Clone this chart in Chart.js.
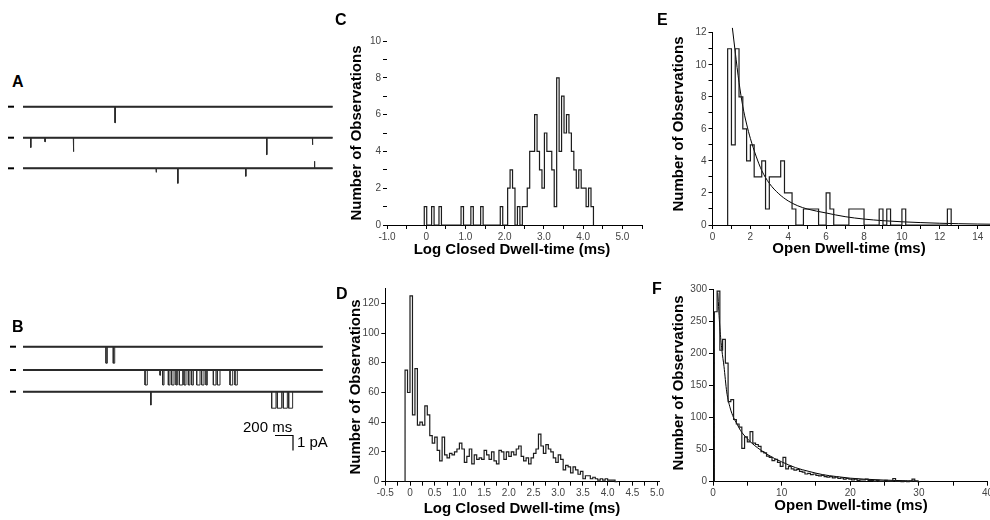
<!DOCTYPE html>
<html><head><meta charset="utf-8">
<script src="https://cdn.jsdelivr.net/npm/chart.js@4.4.0/dist/chart.umd.min.js"></script>
<style>
html,body{margin:0;padding:0;background:#fff;}
body{width:990px;height:520px;position:relative;overflow:hidden;font-family:"Liberation Sans",Arial,Helvetica,sans-serif;color:#000;}
canvas{position:absolute;}
.t{position:absolute;white-space:nowrap;line-height:1;}
.lab{font-weight:bold;font-size:16px;}
.xt{font-weight:bold;font-size:15px;transform:translate(-50%,-50%);}
.yt{font-weight:bold;font-size:15px;transform:translate(-50%,-50%) rotate(-90deg);}
.sb{font-size:15px;}
</style></head><body>
<canvas id="cA" width="340" height="100" style="left:0;top:90px;width:340px;height:100px"></canvas>
<canvas id="cB" width="340" height="125" style="left:0;top:330px;width:340px;height:125px"></canvas>
<canvas id="cC" width="310" height="225" style="left:340px;top:25px;width:310px;height:225px"></canvas>
<canvas id="cD" width="325" height="225" style="left:340px;top:275px;width:325px;height:225px"></canvas>
<canvas id="cE" width="335" height="225" style="left:655px;top:20px;width:335px;height:225px"></canvas>
<canvas id="cF" width="335" height="225" style="left:655px;top:275px;width:335px;height:225px"></canvas>

<div class="t lab" style="left:12px;top:74px">A</div>
<div class="t lab" style="left:12px;top:319px">B</div>
<div class="t lab" style="left:335px;top:12px">C</div>
<div class="t lab" style="left:336px;top:286px">D</div>
<div class="t lab" style="left:657px;top:12px">E</div>
<div class="t lab" style="left:652px;top:281px">F</div>

<div class="t xt" style="left:512px;top:248px">Log Closed Dwell-time (ms)</div>
<div class="t xt" style="left:522px;top:507px">Log Closed Dwell-time (ms)</div>
<div class="t xt" style="left:849px;top:247px">Open Dwell-time (ms)</div>
<div class="t xt" style="left:851px;top:504px">Open Dwell-time (ms)</div>
<div class="t yt" style="left:355px;top:133px">Number of Observations</div>
<div class="t yt" style="left:354px;top:387px">Number of Observations</div>
<div class="t yt" style="left:677px;top:124px">Number of Observations</div>
<div class="t yt" style="left:677px;top:383px">Number of Observations</div>

<div class="t sb" style="left:243px;top:419px">200 ms</div>
<div class="t sb" style="left:297px;top:434px">1 pA</div>

<script>
// ===== Data =====
// Panel C: log closed dwell-time histogram
const cBinStart = -0.05, cBinWidth = 0.0625;
const cCounts = [1,0,0,1,0,0,1,0,0,0,0,0,0,0,0,1,0,0,0,1,0,0,0,1,0,0,0,0,0,0,0,1,0,0,
  2,3,2,0,1,0,1,1,2,4,4,6,4,3,2,5,4,4,3,1,8,4,7,5,6,5,4,3,2,3,2,2,1,2,1];
const cXTickValues = [-1,0,1,2,3,4,5];
const cXTickLabels = ['-1.0','0','1.0','2.0','3.0','4.0','5.0'];
const cYTickValues = [0,2,4,6,8,10];

// Panel D: log closed dwell-time histogram
const dBinStart = -0.1, dBinWidth = 0.05;
const dCounts = [75,60,125,45,76,38,40,38,51,45,31,26,30,21,14,30,18,16,19,18,20,22,26,22,13,17,22,12,18,15,
  16,15,21,18,15,20,14,12,21,20,15,20,17,20,18,22,24,17,14,16,12,16,19,22,32,24,19,25,22,20,
  16,13,18,15,8,11,10,6,10,8,5,7,2,4,4,2,3,2,1,2,1,2,1,1,1,0];
const dXTickValues = [-0.5,0,0.5,1,1.5,2,2.5,3,3.5,4,4.5,5];
const dXTickLabels = ['-0.5','0','0.5','1.0','1.5','2.0','2.5','3.0','3.5','4.0','4.5','5.0'];
const dYTickValues = [0,20,40,60,80,100,120];

// Panel E: open dwell-time histogram + fit
const eBinStart = 0.8, eBinWidth = 0.2;
const eCounts = [11,5,11,8,6,4,5,3,3,4,1,3,3,3,4,2,2,1,0,0,1,1,1,1,0,0,2,1,0,0,0,0,1,1,1,1,0,0,0,0,
  1,0,1,0,0,0,1,0,0,0,0,0,0,0,0,0,0,0,1];
const eFitX = [1.05,1.2,1.4,1.6,1.8,2.0,2.3,2.6,3.0,3.5,4.0,4.5,5,6,7,8,9,10,11,12,13,14,14.65];
const eFitY = [12.3,10.8,8.9,7.4,6.3,5.4,4.3,3.4,2.6,1.95,1.5,1.2,1.0,0.75,0.52,0.37,0.27,0.2,0.15,0.11,0.08,0.06,0.05];
const eXTickValues = [0,2,4,6,8,10,12,14];
const eYTickValues = [0,2,4,6,8,10,12];

// Panel F: open dwell-time histogram + fit
const fBinStart = 0.2, fBinWidth = 0.4;
const fCounts = [265,297,205,222,185,125,128,97,90,85,52,70,62,78,60,58,55,47,45,40,38,33,35,30,24,38,20,24,20,18,
  19,16,15,12,13,11,12,10,9,10,8,7,8,6,7,5,6,4,5,4,3,4,2,3,3,4,2,2,1,2,
  1,1,2,1,1,5,1,1,0,1,0,1,4,1,0];
const fFitX = [0.7,1.0,1.3,1.6,2.0,2.5,3,3.5,4,5,6,7,8,9,10,12,14,16,18,20,22,25,28,30];
const fFitY = [295,240,205,180,140,115,100,90,80,67,57,49,42,36,31,22,16,11,8,5.5,4,2.5,1.5,1];
const fXTickValues = [0,10,20,30,40];
const fYTickValues = [0,50,100,150,200,250,300];

// Panels A/B: single-channel traces. Events: [start ms, duration ms, amplitude pA (downward)]
const aTraceMs = 3440;
const aRow1 = [[1022,5,1.07]];
const aRow2 = [[85,5,0.65],[244,5,0.27],[559,5,0.93],[2707,5,1.13],[3215,5,0.47]];
const aRow3 = [[1478,5,0.27],[1719,5,1.0],[2474,5,0.53],[3237,5,-0.47]];
const bTraceMs = 3330;
const bRow1 = [[922,15,1.1],[1003,16,1.1]];
const bRow2 = [[1356,25,1.0],[1522,6,0.35],[1552,15,1.0],[1615,18,1.0],[1652,26,1.0],[1700,15,1.0],
  [1737,37,1.0],[1789,22,1.0],[1837,18,1.0],[1874,19,1.0],[1930,37,1.0],[1985,26,1.0],[2033,15,1.0],
  [2115,29,1.0],[2159,30,1.0],[2300,30,1.0],[2355,26,1.0]];
const bRow3 = [[1419,5,0.89],[2763,48,1.1],[2826,48,1.1],[2892,45,1.1],[2952,44,1.1]];
const scaleBarMs = 200, scaleBarPA = 1;

// ===== Drawing =====
const FONT = '"Liberation Sans", Arial, Helvetica, sans-serif';
function stepPoints(start, width, counts){
  const pts = [{x:start, y:0}];
  counts.forEach((c,i)=>pts.push({x:start+i*width, y:c}));
  pts.push({x:start+counts.length*width, y:0});
  return pts;
}
function near(v, list){ return list.findIndex(t=>Math.abs(t-v)<1e-6); }
function zeroPad(s){ s.paddingLeft=0; s.paddingRight=0; s.paddingTop=0; s.paddingBottom=0; }

function histChart(id, cfg){
  const ds = [{data: stepPoints(cfg.start, cfg.width, cfg.counts), stepped:'before',
    borderColor:'#1c1c1c', borderWidth:1.2, pointRadius:0, fill:false, clip:false}];
  if (cfg.fitX) ds.push({data: cfg.fitX.map((x,i)=>({x, y:cfg.fitY[i]})), cubicInterpolationMode:'monotone',
    borderColor:'#000', borderWidth:1, pointRadius:0, fill:false, clip:false});
  const tickFont = {size:10, family:FONT};
  new Chart(document.getElementById(id), {
    type:'line',
    data:{datasets:ds},
    options:{
      responsive:false, animation:false, events:[],
      layout:{padding:{left:0, right:cfg.padR, top:cfg.padT, bottom:0}},
      plugins:{legend:{display:false}, tooltip:{enabled:false}},
      scales:{
        x:{type:'linear', min:cfg.xMin, max:cfg.xMax,
          afterFit:s=>{s.height=cfg.xH; zeroPad(s);},
          border:{display:true, color:'#000', width:1},
          grid:{display:true, drawOnChartArea:false, drawTicks:true, tickLength:4, color:'#000', lineWidth:1},
          ticks:{stepSize:cfg.xStep, autoSkip:false, maxRotation:0, minRotation:0, includeBounds:false, padding:2,
            font:tickFont, color:'#444',
            callback:v=>{const k=near(v,cfg.xTickValues); return k<0?'':(cfg.xTickLabels?cfg.xTickLabels[k]:String(cfg.xTickValues[k]));}}
        },
        y:{type:'linear', min:0, max:cfg.yMax,
          afterFit:s=>{s.width=cfg.yW; zeroPad(s);},
          border:{display:cfg.yBorder, color:'#000', width:1},
          grid:{display:true, drawOnChartArea:false, drawTicks:true, tickLength:4, color:'#000', lineWidth:1},
          ticks:{stepSize:cfg.yStep, autoSkip:false, includeBounds:false, padding:2, font:tickFont, color:'#444',
            callback:v=>{const k=near(v,cfg.yTickValues); return k<0?'':String(cfg.yTickValues[k]);}}
        }
      }
    }
  });
}

histChart('cC', {start:cBinStart, width:cBinWidth, counts:cCounts,
  xMin:-1, xMax:5.5, xStep:0.5, xTickValues:cXTickValues, xTickLabels:cXTickLabels,
  yMax:10, yStep:1, yTickValues:cYTickValues, yBorder:false,
  yW:47, xH:25, padT:16, padR:8});
histChart('cD', {start:dBinStart, width:dBinWidth, counts:dCounts,
  xMin:-0.5, xMax:5.05, xStep:0.25, xTickValues:dXTickValues, xTickLabels:dXTickLabels,
  yMax:130, yStep:20, yTickValues:dYTickValues, yBorder:true,
  yW:45.3, xH:18.3, padT:13.4, padR:5.5});
histChart('cE', {start:eBinStart, width:eBinWidth, counts:eCounts, fitX:eFitX, fitY:eFitY,
  xMin:0, xMax:14.65, xStep:1, xTickValues:eXTickValues,
  yMax:12, yStep:1, yTickValues:eYTickValues, yBorder:true,
  yW:57.5, xH:20, padT:12.7, padR:0});
histChart('cF', {start:fBinStart, width:fBinWidth, counts:fCounts, fitX:fFitX, fitY:fFitY,
  xMin:0, xMax:40, xStep:5, xTickValues:fXTickValues,
  yMax:300, yStep:50, yTickValues:fYTickValues, yBorder:true,
  yW:58, xH:18.3, padT:14.3, padR:2.5});

// Traces
const msPerPx = 200/18, pxPerPA = 15;
function tracePts(events, base, T){
  const pts=[{x:0,y:base}];
  events.slice().sort((a,b)=>a[0]-b[0]).forEach(([s,d,a])=>{
    pts.push({x:s,y:base},{x:s,y:base-a},{x:s+d,y:base-a},{x:s+d,y:base});
  });
  pts.push({x:T,y:base});
  return pts;
}
function traceChart(id, rows, T, startPx, canvasW, canvasH, firstRowPx, rowGapsPA, markerPx, bar){
  const yMax = firstRowPx/pxPerPA, yMin = yMax - canvasH/pxPerPA;
  const ds = [];
  rows.forEach((ev,i)=>{
    const base = -rowGapsPA[i];
    ds.push({data:[{x:0,y:base},{x:T,y:base}], borderColor:'#2a2a2a', borderWidth:2, pointRadius:0, clip:false});
    ds.push({data:tracePts(ev, base, T), borderColor:'#2a2a2a', borderWidth:1, pointRadius:0, clip:false});
    ds.push({data:[{x:(markerPx[0]-startPx)*msPerPx,y:base},{x:(markerPx[1]-startPx)*msPerPx,y:base}],
      borderColor:'#000', borderWidth:2, pointRadius:0, clip:false});
  });
  if (bar) {
    ds.push({data:[{x:bar.x,y:bar.y},{x:bar.x+scaleBarMs,y:bar.y},{x:bar.x+scaleBarMs,y:bar.y-scaleBarPA}],
      borderColor:'#000', borderWidth:1.2, pointRadius:0, clip:false});
  }
  new Chart(document.getElementById(id), {
    type:'line', data:{datasets:ds},
    options:{responsive:false, animation:false, events:[],
      layout:{padding:0},
      plugins:{legend:{display:false}, tooltip:{enabled:false}},
      scales:{
        x:{type:'linear', display:false, min:-startPx*msPerPx, max:(canvasW-startPx)*msPerPx},
        y:{type:'linear', display:false, min:yMin, max:yMax}
      }}
  });
}
traceChart('cA', [aRow1,aRow2,aRow3], aTraceMs, 23, 340, 100, 16.7, [0,2.067,4.107], [8,14], null);
traceChart('cB', [bRow1,bRow2,bRow3], bTraceMs, 23, 340, 125, 16.7, [0,1.553,3.0], [10,16],
  {x:(275-23)*msPerPx, y:-(435.5-346.7)/pxPerPA});
</script>
</body></html>
